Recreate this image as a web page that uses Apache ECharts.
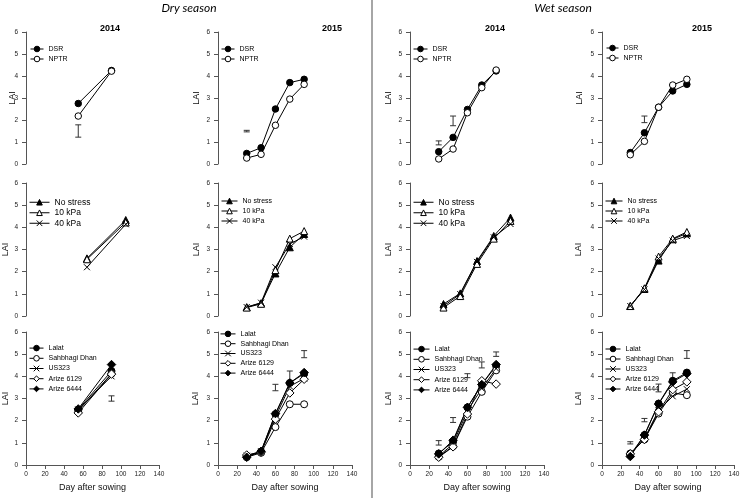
<!DOCTYPE html>
<html><head><meta charset="utf-8">
<script src="https://cdn.jsdelivr.net/npm/echarts@6/dist/echarts.min.js"></script>
<style>html,body{margin:0;padding:0;background:#fff}#c{width:740px;height:498px}</style>
</head><body><div id="c"></div><script>
const FONT = 'Liberation Sans, Arial, sans-serif';

// ---- axis ticks ----
const yTicks = [0, 1, 2, 3, 4, 5, 6];
const xTicks = [0, 20, 40, 60, 80, 100, 120, 140];
const xTicksShort = [0, 20, 40, 60, 80, 100, 120];

// ---- x values (days after sowing) ----
const days2 = [55, 90];
const days5 = [30, 45, 60, 75, 90];

// ---- Row 1: establishment method ----
const names1 = ['DSR', 'NPTR'];
const dry14_DSR = [2.75, 4.25];
const dry14_NPTR = [2.18, 4.22];
const dry15_DSR = [0.48, 0.74, 2.50, 3.70, 3.85];
const dry15_NPTR = [0.27, 0.44, 1.76, 2.95, 3.62];
const wet14_DSR = [0.56, 1.21, 2.48, 3.59, 4.23];
const wet14_NPTR = [0.23, 0.68, 2.33, 3.47, 4.27];
const wet15_DSR = [0.52, 1.42, 2.58, 3.32, 3.62];
const wet15_NPTR = [0.42, 1.03, 2.58, 3.59, 3.85];

// ---- Row 2: water regime ----
const names2 = ['No stress', '10 kPa', '40 kPa'];
const dry14_NoStress = [2.60, 4.33];
const dry14_10kPa = [2.56, 4.22];
const dry14_40kPa = [2.20, 4.14];
const dry15_NoStress = [0.40, 0.58, 1.92, 3.10, 3.70];
const dry15_10kPa = [0.38, 0.55, 2.07, 3.49, 3.83];
const dry15_40kPa = [0.40, 0.60, 2.20, 3.25, 3.58];
const wet14_NoStress = [0.54, 1.02, 2.48, 3.61, 4.44];
const wet14_10kPa = [0.38, 0.90, 2.35, 3.49, 4.29];
const wet14_40kPa = [0.45, 0.99, 2.44, 3.55, 4.15];
const wet15_NoStress = [0.45, 1.22, 2.50, 3.46, 3.73];
const wet15_10kPa = [0.45, 1.25, 2.68, 3.49, 3.79];
const wet15_40kPa = [0.45, 1.20, 2.59, 3.40, 3.61];

// ---- Row 3: variety ----
const names3 = ['Lalat', 'Sahbhagi Dhan', 'US323', 'Arize 6129', 'Arize 6444'];
const dry14_Lalat = [2.50, 4.24];
const dry14_Sahbhagi = [2.44, 4.12];
const dry14_US323 = [2.50, 4.00];
const dry14_A6129 = [2.35, 4.10];
const dry14_A6444 = [2.53, 4.53];
const dry15_Lalat = [0.38, 0.60, 2.29, 3.70, 4.12];
const dry15_Sahbhagi = [0.35, 0.55, 1.71, 2.74, 2.74];
const dry15_US323 = [0.42, 0.62, 2.17, 3.55, 3.90];
const dry15_A6129 = [0.45, 0.58, 2.07, 3.25, 3.87];
const dry15_A6444 = [0.35, 0.62, 2.32, 3.70, 4.17];
const wet14_Lalat = [0.52, 1.05, 2.60, 3.63, 4.47];
const wet14_Sahbhagi = [0.37, 0.85, 2.18, 3.30, 4.27];
const wet14_US323 = [0.40, 0.95, 2.45, 3.45, 4.35];
const wet14_A6129 = [0.35, 0.82, 2.30, 3.80, 3.65];
const wet14_A6444 = [0.50, 1.12, 2.60, 3.63, 4.53];
const wet15_Lalat = [0.45, 1.35, 2.77, 3.80, 4.17];
const wet15_Sahbhagi = [0.52, 1.15, 2.32, 3.25, 3.15];
const wet15_US323 = [0.48, 1.20, 2.47, 3.10, 3.42];
const wet15_A6129 = [0.50, 1.15, 2.40, 3.40, 3.75];
const wet15_A6444 = [0.38, 1.35, 2.75, 3.75, 4.12];

// ---- LSD error bars: [day, low, high] ----
const err_r1_dry14 = [[55, 1.22, 1.78]];
const err_r1_dry15 = [[30, 1.46, 1.53]];
const err_r1_wet14 = [[30, 0.87, 1.05], [45, 1.74, 2.18]];
const err_r1_wet15 = [[45, 1.88, 2.18]];
const err_r3_dry14 = [[90, 2.88, 3.12]];
const err_r3_dry15 = [[60, 3.35, 3.64], [75, 3.71, 4.24], [90, 4.84, 5.16]];
const err_r3_wet14 = [[30, 0.90, 1.10], [45, 1.92, 2.14], [60, 3.94, 4.12], [75, 4.38, 4.65], [90, 4.90, 5.10]];
const err_r3_wet15 = [[30, 0.95, 1.05], [45, 1.95, 2.10], [60, 3.30, 3.65], [75, 3.76, 4.16], [90, 4.81, 5.16]];

// ---- titles ----
const seasonTitles = ['Dry season', 'Wet season'];
const yearTitles = ['2014', '2015', '2014', '2015'];
const yName = 'LAI';
const xName = 'Day after sowing';

// ---- styles / layout ----
const CROSS = 'path://M0,0L10,10M10,0L0,10';
const STY = {
  'DSR': ['circle', '#000', 6.5], 'NPTR': ['circle', '#fff', 6.5],
  'No stress': ['triangle', '#000', 7], '10 kPa': ['triangle', '#fff', 7], '40 kPa': [CROSS, '#000', 6],
  'Lalat': ['circle', '#000', 7], 'Sahbhagi Dhan': ['circle', '#fff', 7], 'US323': [CROSS, '#000', 6],
  'Arize 6129': ['diamond', '#fff', 8.5], 'Arize 6444': ['diamond', '#000', 8.5]
};
const colLeft = [26, 218, 410, 602];
const colWidth = [133, 134, 134, 132];
const rowTop = [32, 183, 332];
const rowHeight = [132, 133, 133];

const panels = [
  // row 1
  {r:0,c:0,xt:xTicks,x:days2,names:names1,ys:[dry14_DSR,dry14_NPTR],err:err_r1_dry14,lg:[30,44,7,10,13],lai:8.5},
  {r:0,c:1,xt:xTicks,x:days5,names:names1,ys:[dry15_DSR,dry15_NPTR],err:err_r1_dry15,lg:[221,44,7,10,13],lai:16.5},
  {r:0,c:2,xt:xTicks,x:days5,names:names1,ys:[wet14_DSR,wet14_NPTR],err:err_r1_wet14,lg:[413,44,7,10,14],lai:16.5},
  {r:0,c:3,xt:xTicks,x:days5,names:names1,ys:[wet15_DSR,wet15_NPTR],err:err_r1_wet15,lg:[606,43,7,10,12],lai:17.5},
  // row 2
  {r:1,c:0,xt:xTicksShort,x:days2,names:names2,ys:[dry14_NoStress,dry14_10kPa,dry14_40kPa],err:[],lg:[29,197,8.5,10.5,20],lai:15.5},
  {r:1,c:1,xt:xTicks,x:days5,names:names2,ys:[dry15_NoStress,dry15_10kPa,dry15_40kPa],err:[],lg:[221,196,7,10,16],lai:16.5},
  {r:1,c:2,xt:xTicksShort,x:days5,names:names2,ys:[wet14_NoStress,wet14_10kPa,wet14_40kPa],err:[],lg:[413,197,8.5,10.5,20],lai:16.5},
  {r:1,c:3,xt:xTicks,x:days5,names:names2,ys:[wet15_NoStress,wet15_10kPa,wet15_40kPa],err:[],lg:[605,196,7,10,17],lai:18.5},
  // row 3
  {r:2,c:0,xt:xTicks,x:days2,names:names3,ys:[dry14_Lalat,dry14_Sahbhagi,dry14_US323,dry14_A6129,dry14_A6444],err:err_r3_dry14,lg:[29,343,7,10.2,14],lai:15.5},
  {r:2,c:1,xt:xTicks,x:days5,names:names3,ys:[dry15_Lalat,dry15_Sahbhagi,dry15_US323,dry15_A6129,dry15_A6444],err:err_r3_dry15,lg:[220,329,7,9.8,15],lai:17.5},
  {r:2,c:2,xt:xTicks,x:days5,names:names3,ys:[wet14_Lalat,wet14_Sahbhagi,wet14_US323,wet14_A6129,wet14_A6444],err:err_r3_wet14,lg:[413,344,7,10.2,16],lai:16.5},
  {r:2,c:3,xt:xTicks,x:days5,names:names3,ys:[wet15_Lalat,wet15_Sahbhagi,wet15_US323,wet15_A6129,wet15_A6444],err:err_r3_wet15,lg:[605,344,7,10,15],lai:18.5}
];

const AX = '#555';
const grid = [], xAxis = [], yAxis = [], series = [], legend = [];
panels.forEach((p, i) => {
  grid.push({left: colLeft[p.c], top: rowTop[p.r], width: colWidth[p.c], height: rowHeight[p.r], containLabel: false, outerBoundsMode: 'none'});
  const bottom = p.r === 2;
  xAxis.push({
    type: 'value', gridIndex: i, min: p.xt[0], max: p.xt[p.xt.length - 1], interval: p.xt[1] - p.xt[0],
    show: bottom,
    axisLine: {show: true, onZero: false, lineStyle: {color: AX, width: 1}},
    axisTick: {show: true, length: 4, lineStyle: {color: AX}},
    axisLabel: {fontSize: 6.5, color: '#222', margin: 6, fontFamily: FONT},
    splitLine: {show: false},
    name: bottom ? xName : '', nameLocation: 'middle', nameGap: 18.5, nameMoveOverlap: false,
    nameTextStyle: {fontSize: 9, color: '#111', fontFamily: FONT}
  });
  yAxis.push({
    type: 'value', gridIndex: i, min: yTicks[0], max: yTicks[yTicks.length - 1], interval: yTicks[1] - yTicks[0],
    axisLine: {show: true, lineStyle: {color: AX, width: 1}},
    axisTick: {show: true, length: 4, lineStyle: {color: AX}},
    axisLabel: {fontSize: 6.5, color: '#222', margin: 8, fontFamily: FONT},
    splitLine: {show: false},
    name: yName, nameLocation: 'middle', nameRotate: 90, nameGap: p.lai, nameMoveOverlap: false,
    nameTextStyle: {fontSize: 9, color: '#111', fontFamily: FONT}
  });
  p.names.forEach((nm, k) => {
    const s = STY[nm];
    series.push({
      type: 'line', name: nm, xAxisIndex: i, yAxisIndex: i,
      data: p.x.map((d, j) => [d, p.ys[k][j]]),
      symbol: s[0], symbolSize: s[2], showSymbol: true,
      lineStyle: {color: '#000', width: 1},
      itemStyle: {color: s[1], borderColor: '#000', borderWidth: 1},
      emphasis: {disabled: true}, animation: false, z: 3
    });
  });
  if (p.err.length) {
    series.push({
      type: 'custom', xAxisIndex: i, yAxisIndex: i, data: p.err, encode: {x: 0, y: [1, 2]},
      silent: true, animation: false, z: 2,
      renderItem: (params, api) => {
        const x = api.value(0);
        const lo = api.coord([x, api.value(1)]);
        const hi = api.coord([x, api.value(2)]);
        const w = 3;
        const st = {stroke: '#333', lineWidth: 1};
        return {type: 'group', children: [
          {type: 'line', shape: {x1: lo[0], y1: lo[1], x2: hi[0], y2: hi[1]}, style: st},
          {type: 'line', shape: {x1: lo[0] - w, y1: lo[1], x2: lo[0] + w, y2: lo[1]}, style: st},
          {type: 'line', shape: {x1: hi[0] - w, y1: hi[1], x2: hi[0] + w, y2: hi[1]}, style: st}
        ]};
      }
    });
  }
  legend.push({
    data: p.names, orient: 'vertical', left: p.lg[0], top: p.lg[1], padding: 0,
    itemWidth: p.lg[4], itemHeight: 7, itemGap: 0, selectedMode: false,
    itemStyle: {borderWidth: 1, borderColor: '#000'},
    lineStyle: {width: 1, color: '#000'},
    textStyle: {fontSize: p.lg[2], lineHeight: p.lg[3], color: '#000', fontFamily: FONT}
  });
});

const yearX = [110, 332, 495, 702];
const graphic = [
  {type: 'line', shape: {x1: 372, y1: 0, x2: 372, y2: 498}, style: {stroke: '#888', lineWidth: 1.5}},
  {type: 'text', x: 189, y: 8, style: {text: seasonTitles[0], font: 'italic 12px Lato, "Open Sans", sans-serif', fill: '#000', textAlign: 'center', textVerticalAlign: 'middle'}},
  {type: 'text', x: 563, y: 8, style: {text: seasonTitles[1], font: 'italic 12px Lato, "Open Sans", sans-serif', fill: '#000', textAlign: 'center', textVerticalAlign: 'middle'}}
];
yearTitles.forEach((t, i) => graphic.push({type: 'text', x: yearX[i], y: 29, style: {text: t, font: 'bold 9px ' + FONT, fill: '#000', textAlign: 'center', textVerticalAlign: 'middle'}}));

const chart = echarts.init(document.getElementById('c'), null, {renderer: 'canvas'});
chart.setOption({animation: false, backgroundColor: '#fff', grid, xAxis, yAxis, series, legend, graphic});
</script></body></html>
